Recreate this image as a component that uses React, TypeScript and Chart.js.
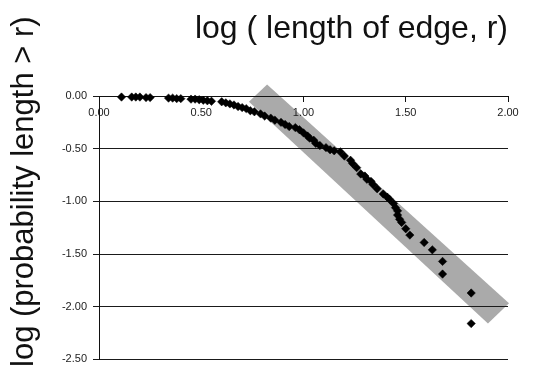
import React, { useEffect, useRef } from "react";
import { Chart, registerables } from "chart.js";

Chart.register(...registerables);

const titleText = "log ( length of edge, r)";
const yLabelText = "log (probability length > r)";

const xValues = [
  0.11, 0.16, 0.18, 0.2, 0.23, 0.25, 0.34, 0.36, 0.38, 0.4, 0.45, 0.47, 0.49, 0.51, 0.53, 0.55,
  0.6, 0.62, 0.64, 0.66, 0.68, 0.7, 0.72, 0.74, 0.76, 0.79, 0.81, 0.84, 0.86, 0.89, 0.91, 0.93,
  0.96, 0.98, 1.0, 1.02, 1.03, 1.05, 1.06, 1.08, 1.11, 1.13, 1.15, 1.18, 1.2, 1.23, 1.24, 1.26,
  1.28, 1.3, 1.31, 1.33, 1.34, 1.36, 1.39, 1.41, 1.42, 1.44, 1.45, 1.46, 1.46, 1.47, 1.48, 1.5,
  1.52, 1.59, 1.63, 1.68, 1.68, 1.82, 1.82,
];
const yValues = [
  -0.01, -0.01, -0.01, -0.01, -0.015, -0.015, -0.02, -0.02, -0.025, -0.025, -0.03, -0.03, -0.035, -0.04, -0.045, -0.05,
  -0.055, -0.065, -0.075, -0.085, -0.1, -0.11, -0.12, -0.14, -0.15, -0.17, -0.19, -0.21, -0.23, -0.25, -0.27, -0.29,
  -0.3, -0.32, -0.35, -0.38, -0.4, -0.42, -0.45, -0.47, -0.49, -0.51, -0.52, -0.53, -0.57, -0.61, -0.64, -0.68,
  -0.74, -0.76, -0.79, -0.81, -0.84, -0.88, -0.93, -0.96, -0.98, -1.02, -1.06, -1.09, -1.13, -1.17, -1.2, -1.26,
  -1.32, -1.39, -1.46, -1.57, -1.69, -1.87, -2.16,
];

const bandX = [0.822, 2.005, 1.902, 0.733];
const bandY = [0.11, -1.967, -2.16, -0.055];

const xMin = 0;
const xMax = 2;
const yMin = -2.5;
const yMax = 0;
const tickStep = 0.5;

const bandPlugin = {
  id: "band",
  beforeDraw(chart: any) {
    const { ctx, scales } = chart;
    const xs = scales.x;
    const ys = scales.y;
    ctx.save();
    ctx.fillStyle = "#aaaaaa";
    ctx.beginPath();
    bandX.forEach((bx, i) => {
      const px = xs.getPixelForValue(bx);
      const py = ys.getPixelForValue(bandY[i]);
      if (i === 0) ctx.moveTo(px, py);
      else ctx.lineTo(px, py);
    });
    ctx.closePath();
    ctx.fill();
    ctx.restore();
  },
};

const textPlugin = {
  id: "texts",
  afterDraw(chart: any) {
    const { ctx, chartArea } = chart;
    ctx.save();
    ctx.fillStyle = "#111111";
    ctx.font = "32px 'Liberation Sans', Arial, sans-serif";
    ctx.textAlign = "right";
    ctx.textBaseline = "alphabetic";
    ctx.fillText(titleText, chartArea.right, 38);
    ctx.translate(33, 367);
    ctx.rotate(-Math.PI / 2);
    ctx.font = "31px 'Liberation Sans', Arial, sans-serif";
    ctx.textAlign = "left";
    ctx.fillText(yLabelText, 0, 0);
    ctx.restore();
  },
};

export default function App() {
  const canvasRef = useRef<HTMLCanvasElement | null>(null);

  useEffect(() => {
    document.body.style.margin = "0";
    const canvas = canvasRef.current;
    if (!canvas) return;
    const data = xValues.map((x, i) => ({ x, y: yValues[i] }));
    const tickFont = { family: "'Liberation Sans', Arial, sans-serif", size: 11 };
    const chart = new Chart(canvas, {
      type: "scatter",
      data: {
        datasets: [
          {
            data,
            pointStyle: "rectRot",
            pointRadius: 4.2,
            pointBackgroundColor: "#000000",
            pointBorderColor: "#000000",
            pointBorderWidth: 0.5,
            clip: false as any,
          },
        ],
      },
      options: {
        responsive: false,
        animation: false,
        devicePixelRatio: 1,
        layout: { padding: { top: 96, right: 25, bottom: 4, left: 0 } },
        plugins: {
          legend: { display: false },
          tooltip: { enabled: false },
          title: { display: false },
        },
        scales: {
          x: {
            type: "linear",
            position: { y: 0 } as any,
            min: xMin,
            max: xMax,
            ticks: {
              stepSize: tickStep,
              color: "#222222",
              font: tickFont,
              padding: 5,
              maxRotation: 0,
              callback: (v: any) => Number(v).toFixed(2),
            },
            grid: {
              drawOnChartArea: false,
              drawTicks: true,
              tickLength: 5,
              color: "#111111",
            },
            border: { display: true, color: "#111111", width: 1 },
          },
          y: {
            type: "linear",
            position: "left",
            min: yMin,
            max: yMax,
            afterFit: (scale: any) => {
              scale.width = 99;
            },
            ticks: {
              stepSize: tickStep,
              color: "#222222",
              font: tickFont,
              padding: 6,
              callback: (v: any) => Number(v).toFixed(2),
            },
            grid: {
              drawOnChartArea: true,
              drawTicks: true,
              tickLength: 6,
              color: "#1a1a1a",
            },
            border: { display: true, color: "#111111", width: 1 },
          },
        },
      },
      plugins: [bandPlugin, textPlugin],
    });
    return () => chart.destroy();
  }, []);

  return <canvas ref={canvasRef} width={533} height={372} style={{ display: "block" }} />;
}
